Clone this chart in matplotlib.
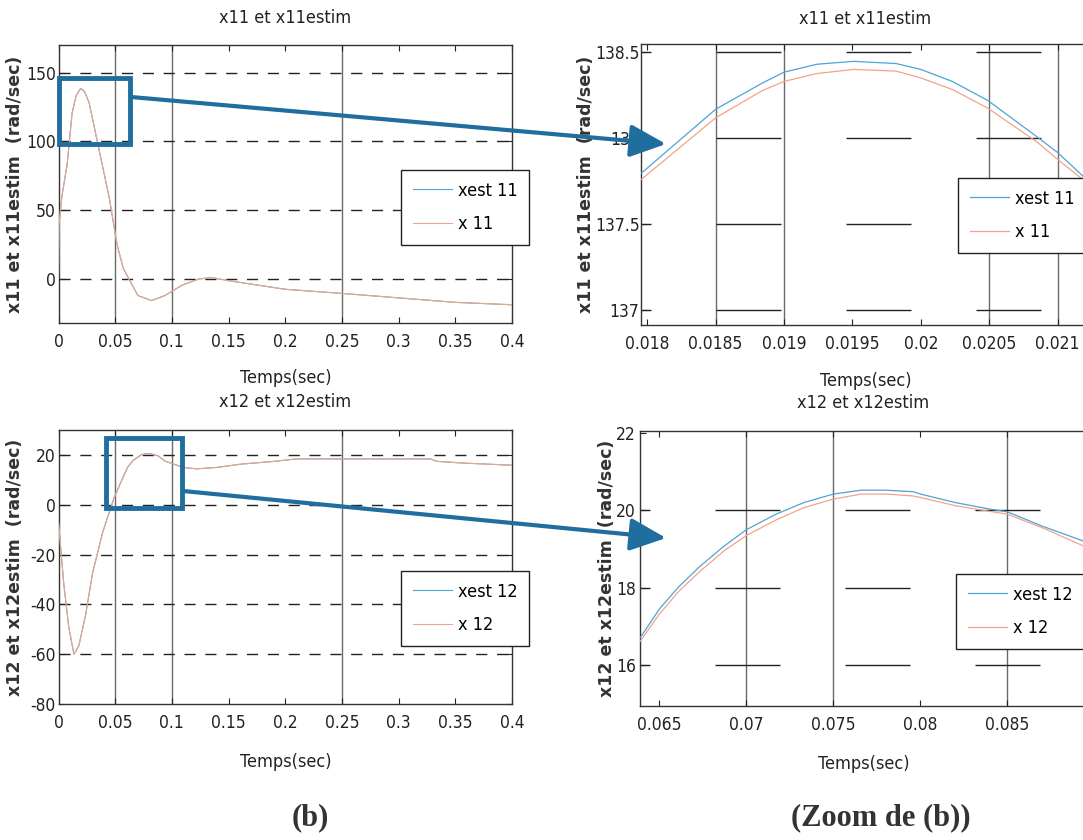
import matplotlib
matplotlib.use("Agg")
import matplotlib.pyplot as plt
from matplotlib import font_manager
from matplotlib.patches import Rectangle, FancyArrowPatch
from matplotlib.ticker import FixedLocator, FixedFormatter

# ---------------- data ----------------
# full simulation, speed x11 and its estimate
t11 = [0.0, 0.0005, 0.003, 0.0076, 0.012, 0.0155, 0.0195, 0.023, 0.027, 0.036,
       0.045, 0.0515, 0.057, 0.061, 0.07, 0.082, 0.094, 0.109, 0.124, 0.135,
       0.15, 0.2, 0.25, 0.3, 0.35, 0.4]
x11 = [0.0, 40.0, 60.0, 83.0, 120.5, 133.0, 138.4, 136.0, 128.0, 93.0,
       58.0, 25.5, 8.0, 1.75, -12.0, -15.75, -12.0, -4.5, 0.0, 1.0,
       -1.25, -7.5, -10.5, -13.75, -17.0, -18.75]
xest11 = [0.0, 40.0, 60.0, 83.2, 120.6, 133.1, 138.45, 136.1, 128.1, 93.1,
          58.0, 25.5, 8.0, 1.75, -12.0, -15.75, -12.0, -4.5, 0.0, 1.0,
          -1.25, -7.5, -10.5, -13.75, -17.0, -18.75]

# full simulation, x12 and its estimate
t12 = [0.0, 0.0046, 0.009, 0.0136, 0.018, 0.024, 0.03, 0.039, 0.049, 0.055,
       0.061, 0.066, 0.073, 0.0775, 0.082, 0.088, 0.094, 0.11, 0.122, 0.14,
       0.161, 0.19, 0.21, 0.252, 0.328, 0.334, 0.358, 0.398, 0.4]
x12 = [-7.0, -31.5, -49.0, -60.0, -56.5, -44.0, -27.5, -11.0, 2.7, 9.0,
       15.0, 17.8, 20.0, 20.4, 20.3, 19.6, 17.5, 15.0, 14.4, 15.0,
       16.3, 17.4, 18.4, 18.4, 18.4, 17.4, 16.7, 15.9, 15.9]
xest12 = [-7.0, -31.5, -49.0, -60.0, -56.5, -44.0, -27.5, -11.0, 2.8, 9.1,
          15.1, 17.9, 20.1, 20.5, 20.4, 19.6, 17.5, 15.0, 14.4, 15.0,
          16.3, 17.4, 18.4, 18.4, 18.4, 17.4, 16.7, 15.9, 15.9]

# zoom around the x11 peak
t11z = [0.01795, 0.0185, 0.01884, 0.019, 0.01924, 0.01951, 0.01982, 0.0200,
        0.02023, 0.02049, 0.02085, 0.0210, 0.02119, 0.0213]
xest11z = [137.79, 138.167, 138.319, 138.383, 138.429, 138.446, 138.433, 138.399,
           138.329, 138.218, 138.006, 137.915, 137.774, 137.68]
x11z = [137.754, 138.117, 138.275, 138.329, 138.375, 138.399, 138.389, 138.349,
        138.282, 138.173, 137.976, 137.875, 137.754, 137.66]

# zoom around the x12 overshoot
t12z = [0.0639, 0.065, 0.0661, 0.0673, 0.0687, 0.070, 0.0717, 0.0733, 0.075,
        0.0766, 0.078, 0.0796, 0.080, 0.082, 0.084, 0.085, 0.087, 0.0894, 0.0905]
xest12z = [16.71, 17.45, 18.02, 18.54, 19.07, 19.5, 19.9, 20.2, 20.42,
           20.52, 20.52, 20.48, 20.42, 20.2, 20.03, 19.96, 19.59, 19.2, 19.0]
x12z = [16.62, 17.32, 17.9, 18.41, 18.95, 19.35, 19.75, 20.07, 20.29,
        20.42, 20.42, 20.37, 20.33, 20.12, 19.97, 19.9, 19.55, 19.07, 18.85]

# axis ticks
xt_main = [0, 0.05, 0.1, 0.15, 0.2, 0.25, 0.3, 0.35, 0.4]
xt_main_lbl = ["0", "0.05", "0.1", "0.15", "0.2", "0.25", "0.3", "0.35", "0.4"]
yt_11 = [0, 50, 100, 150]
yt_12 = [-80, -60, -40, -20, 0, 20]
xt_11z = [0.018, 0.0185, 0.019, 0.0195, 0.02, 0.0205, 0.021]
xt_11z_lbl = ["0.018", "0.0185", "0.019", "0.0195", "0.02", "0.0205", "0.021"]
yt_11z = [137, 137.5, 138, 138.5]
yt_11z_lbl = ["137", "137.5", "138", "138.5"]
xt_12z = [0.065, 0.07, 0.075, 0.08, 0.085]
xt_12z_lbl = ["0.065", "0.07", "0.075", "0.08", "0.085"]
yt_12z = [16, 18, 20, 22]

# grid lines that show in each panel
vgrid_main = [0.05, 0.1, 0.25]
hgrid_11 = [0, 50, 100, 150]
hgrid_12 = [-60, -40, -20, 0, 20]
vgrid_11z = [0.0185, 0.019, 0.0205, 0.021]
hgrid_11z = [137, 137.5, 138, 138.5]
vgrid_12z = [0.07, 0.075, 0.085]
hgrid_12z = [16, 18, 20]

# ---------------- style ----------------
W, H = 1083, 840
BLUE = "#4fa3d6"
RED = "#f2a488"
ARROW = "#1f6e9f"

# a narrow sans face for the axis texts
_faces = font_manager.fontManager.ttflist
_names = {f.name for f in _faces}
if "Liberation Sans Narrow" in _names:
    NARROW = dict(family="Liberation Sans Narrow")
elif any(f.name == "DejaVu Sans" and f.stretch in ("condensed", "semi-condensed")
         for f in _faces):
    NARROW = dict(family="DejaVu Sans", stretch="condensed")
elif "Roboto Condensed" in _names:
    NARROW = dict(family="Roboto Condensed")
else:
    NARROW = dict(family="Roboto")

fig = plt.figure(figsize=(W / 100, H / 100), dpi=100)
fig.patch.set_facecolor("white")


def px_axes(x0, x1, y0, y1):
    return fig.add_axes([x0 / W, 1 - y1 / H, (x1 - x0) / W, (y1 - y0) / H])


def style(ax, xt, xl, yt, yl, xlim, ylim, ypad):
    ax.set_xlim(*xlim)
    ax.set_ylim(*ylim)
    ax.xaxis.set_major_locator(FixedLocator(xt))
    ax.xaxis.set_major_formatter(FixedFormatter(xl))
    ax.yaxis.set_major_locator(FixedLocator(yt))
    ax.yaxis.set_major_formatter(FixedFormatter(yl))
    ax.tick_params(direction="in", length=4, width=0.8, top=True, right=True,
                   colors="#222222", labelsize=12.5)
    ax.tick_params(axis="x", pad=7)
    ax.tick_params(axis="y", pad=ypad)
    for lab in ax.get_xticklabels() + ax.get_yticklabels():
        lab.set(**NARROW)
    for s in ax.spines.values():
        s.set_color("#333333")
        s.set_linewidth(1.0)


def grid(ax, vlines, hlines, dashes):
    for v in vlines:
        ax.axvline(v, color="#6a6a6a", lw=1.0, zorder=1)
    for h in hlines:
        ax.axhline(h, color="#222222", lw=1.0, linestyle=dashes, zorder=1)


def texts(ax, title, tpos, xlab, xpos, ylab, ypos):
    ax.set_title(title, fontsize=13, x=tpos[0], y=tpos[1],
                 va="center", pad=0, color="#222222", **NARROW)
    ax.set_xlabel(xlab, fontsize=13, color="#222222", va="center", **NARROW)
    ax.xaxis.set_label_coords(*xpos)
    ax.set_ylabel(ylab, family="DejaVu Sans", fontweight="bold", fontsize=12.5,
                  color="#333333", va="center")
    ax.yaxis.set_label_coords(*ypos)


def legend(ax, handles, labels, x0, y0):
    leg = ax.legend(handles, labels, loc="upper left",
                    bbox_to_anchor=(x0 / W, 1 - y0 / H),
                    bbox_transform=fig.transFigure, fancybox=False, framealpha=1,
                    edgecolor="#222222", prop=dict(size=13, **NARROW),
                    handlelength=2.2, handletextpad=0.3, labelspacing=0.85,
                    borderpad=0.65, borderaxespad=0)
    leg.get_frame().set_linewidth(1.0)


short_dash = (0, (8.0, 7.0))
long_dash = (39.6, (46.8, 46.8))


def panel(x0, x1, y0, y1, t, est, real, lw):
    ax = px_axes(x0, x1, y0, y1)
    h_est, = ax.plot(t, est, color=BLUE, lw=lw, zorder=3)
    h_real, = ax.plot(t, real, color=RED, lw=lw, zorder=4)
    return ax, [h_est, h_real]


# ---- top left: x11 full ----
ax1, h1 = panel(58.5, 512, 45, 323, t11, xest11, x11, 0.8)
grid(ax1, vgrid_main, hgrid_11, short_dash)
style(ax1, xt_main, xt_main_lbl, yt_11, [str(v) for v in yt_11],
      (0, 0.4), (-32, 170), 2)
texts(ax1, "x11 et x11estim", (0.5, 1.097), "Temps(sec)", (0.5, -0.198),
      "x11 et x11estim  (rad/sec)", (-0.095, 0.5))
legend(ax1, h1, ["xest 11", "x 11"], 401, 170)

# ---- top right: x11 zoom ----
ax2, h2 = panel(641, 1100, 44, 325, t11z, xest11z, x11z, 0.9)
grid(ax2, vgrid_11z, hgrid_11z, long_dash)
style(ax2, xt_11z, xt_11z_lbl, yt_11z, yt_11z_lbl,
      (0.017954, 0.02131), (136.91, 138.547), 1)
texts(ax2, "x11 et x11estim", (0.489, 1.089), "Temps(sec)", (0.489, -0.2),
      "x11 et x11estim  (rad/sec)", (-0.12, 0.5))
legend(ax2, h2, ["xest 11", "x 11"], 958, 178)

# ---- bottom left: x12 full ----
ax3, h3 = panel(58.5, 512, 430, 704, t12, xest12, x12, 0.8)
grid(ax3, vgrid_main, hgrid_12, short_dash)
style(ax3, xt_main, xt_main_lbl, yt_12, [str(v) for v in yt_12],
      (0, 0.4), (-80, 30), 2)
texts(ax3, "x12 et x12estim", (0.5, 1.102), "Temps(sec)", (0.5, -0.212),
      "x12 et x12estim  (rad/sec)", (-0.095, 0.5))
legend(ax3, h3, ["xest 12", "x 12"], 401, 571)

# ---- bottom right: x12 zoom ----
ax4, h4 = panel(640, 1100, 431, 706, t12z, xest12z, x12z, 0.9)
grid(ax4, vgrid_12z, hgrid_12z, long_dash)
style(ax4, xt_12z, xt_12z_lbl, yt_12z, [str(v) for v in yt_12z],
      (0.06388, 0.09032), (14.94, 22.05), 3)
texts(ax4, "x12 et x12estim", (0.486, 1.1), "Temps(sec)", (0.486, -0.211),
      "x12 et x12estim  (rad/sec)", (-0.072, 0.5))
legend(ax4, h4, ["xest 12", "x 12"], 956, 574)


# ---- zoom frames and arrows ----
def frame(x0, y0, x1, y1):
    fig.add_artist(Rectangle((x0 / W, 1 - y1 / H), (x1 - x0) / W, (y1 - y0) / H,
                             transform=fig.transFigure, fill=False,
                             edgecolor=ARROW, linewidth=3.5, zorder=10))


def arrow(x0, y0, x1, y1):
    fig.add_artist(FancyArrowPatch((x0 / W, 1 - y0 / H), (x1 / W, 1 - y1 / H),
                                   transform=fig.transFigure,
                                   arrowstyle="-|>,head_length=1.1,head_width=0.5",
                                   mutation_scale=20, color=ARROW, linewidth=3,
                                   shrinkA=0, shrinkB=0, zorder=10))


frame(58.5, 77.5, 130, 144)
arrow(131, 97, 666, 144)
frame(106, 438, 182, 508)
arrow(183, 491, 666, 538)

# ---- panel captions ----
fig.text(310 / W, 1 - 818 / H, "(b)", family="Liberation Serif", fontweight="bold",
         fontsize=22, color="#333333", ha="center", va="center")
fig.text(881 / W, 1 - 818 / H, "(Zoom de (b))", family="Liberation Serif",
         fontweight="bold", fontsize=22, color="#333333", ha="center", va="center")

fig.savefig("out.png", dpi=100, facecolor="white")
